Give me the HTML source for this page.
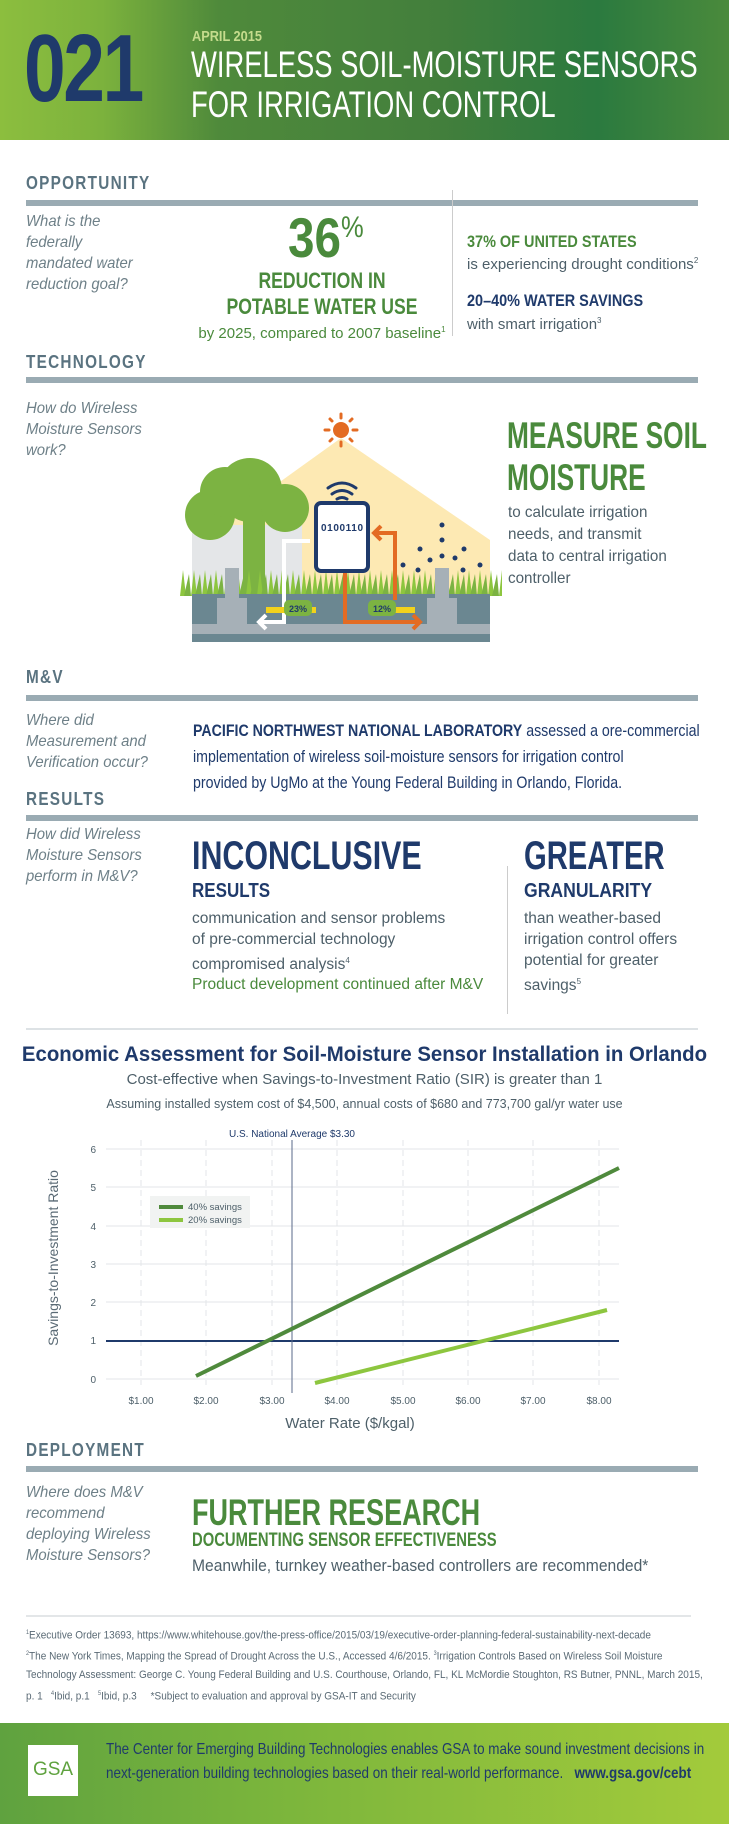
<!DOCTYPE html>
<html><head><meta charset="utf-8">
<style>
*{margin:0;padding:0;box-sizing:border-box}
body{width:729px;height:1824px;position:relative;background:#fff;font-family:"Liberation Sans",sans-serif;overflow:hidden}
.a{position:absolute;white-space:nowrap;transform-origin:left top}
.sec{position:absolute;left:26px;font-weight:bold;color:#5a7380;font-size:18px;letter-spacing:1.5px;transform:scaleX(.85);transform-origin:left top}
.rule{position:absolute;left:26px;width:672px;height:6px;background:#9aabb3}
.q{position:absolute;left:26px;color:#6e8088;font-style:italic;font-size:16px;line-height:21px;white-space:nowrap;transform:scaleX(.93);transform-origin:left top}
.g{color:#4a8a3c}.n{color:#1f3a6b}.t{color:#4d5f69}
</style></head><body>
<div class="a" style="left:0;top:0;width:729px;height:140px;background:linear-gradient(90deg,#8cbe3e 0%,#7cb23d 14%,#4f8a3b 30%,#437f3c 60%,#2b7a3f 82%,#4a8a3c 100%)"></div>
<div class="a n" style="left:24px;top:14px;font-size:96px;font-weight:bold;line-height:110px;letter-spacing:-3px;transform:scaleX(0.78)">021</div>
<div class="a" style="left:192px;top:28px;font-size:15px;font-weight:bold;color:#c5dc8d;transform:scaleX(.85)">APRIL 2015</div>
<div class="a" style="left:191px;top:45px;font-size:37px;color:#fff;line-height:40px;transform:scaleX(.74)">WIRELESS SOIL-MOISTURE SENSORS<br>FOR IRRIGATION CONTROL</div>

<div class="sec" style="top:173px">OPPORTUNITY</div><div class="rule" style="top:200px"></div>
<div class="q" style="top:211px">What is the<br>federally<br>mandated water<br>reduction goal?</div>
<div class="a g" style="left:288px;top:208px;font-size:56px;font-weight:bold;line-height:60px;transform:scaleX(.85)">36<span style="font-size:30px;font-weight:normal;vertical-align:top;line-height:40px">%</span></div>
<div class="a g" style="left:197px;top:268px;width:250px;text-align:center;font-size:22px;font-weight:bold;line-height:26px;transform:scaleX(.8);transform-origin:center top">REDUCTION IN<br>POTABLE WATER USE</div>
<div class="a g" style="left:197px;top:325px;width:250px;text-align:center;font-size:15px">by 2025, compared to 2007 baseline<sup style="font-size:8px">1</sup></div>
<div class="a" style="left:452px;top:190px;width:1px;height:146px;background:#ccc"></div>
<div class="a g" style="left:467px;top:232px;font-size:17px;font-weight:bold;transform:scaleX(.85)">37% OF UNITED STATES</div>
<div class="a t" style="left:467px;top:256px;font-size:15px">is experiencing drought conditions<sup style="font-size:8px">2</sup></div>
<div class="a n" style="left:467px;top:291px;font-size:17px;font-weight:bold;transform:scaleX(.85)">20–40% WATER SAVINGS</div>
<div class="a t" style="left:467px;top:316px;font-size:15px">with smart irrigation<sup style="font-size:8px">3</sup></div>

<div class="sec" style="top:352px">TECHNOLOGY</div><div class="rule" style="top:377px"></div>
<div class="q" style="top:398px">How do Wireless<br>Moisture Sensors<br>work?</div>
<svg class="a" style="left:0;top:0" width="729" height="1824">
<defs><pattern id="gr" x="180" y="570" width="11" height="26" patternUnits="userSpaceOnUse"><polygon points="0,26 3,0 6,26" fill="#8dc63f"/><polygon points="4,26 9,4 11,26" fill="#7cb342"/></pattern></defs>
<polygon points="192,545 341,438 490,540 490,600 192,600" fill="#fde9b3"/>
<rect x="192" y="525" width="110" height="70" fill="#e4e6e8"/>
<circle cx="341" cy="430" r="8" fill="#e36b23"/>
<g stroke="#e36b23" stroke-width="3" stroke-linecap="round">
<line x1="341" y1="414" x2="341" y2="418"/><line x1="341" y1="442" x2="341" y2="446"/><line x1="325" y1="430" x2="329" y2="430"/><line x1="353" y1="430" x2="357" y2="430"/>
<line x1="330" y1="419" x2="332" y2="421"/><line x1="352" y1="419" x2="350" y2="421"/><line x1="330" y1="441" x2="332" y2="439"/><line x1="352" y1="441" x2="350" y2="439"/></g>
<rect x="243" y="500" width="22" height="100" fill="#7cb342"/>
<circle cx="250" cy="490" r="32" fill="#7cb342"/><circle cx="210" cy="515" r="25" fill="#7cb342"/><circle cx="285" cy="508" r="24" fill="#7cb342"/><circle cx="225" cy="492" r="25" fill="#7cb342"/>
<g fill="none" stroke="#1f3a6b" stroke-width="3" stroke-linecap="round"><path d="M328 488 q14-10 28 0"/><path d="M332 494 q10-7 20 0"/><path d="M337 499 q5-3 10 0"/></g>
<g fill="#1f3a6b"><circle cx="442" cy="540" r="2.5"/><circle cx="420" cy="549" r="2.5"/><circle cx="430" cy="560" r="2.5"/><circle cx="442" cy="556" r="2.5"/><circle cx="455" cy="558" r="2.5"/><circle cx="464" cy="549" r="2.5"/><circle cx="403" cy="565" r="2.5"/><circle cx="418" cy="570" r="2.5"/><circle cx="442" cy="572" r="2.5"/><circle cx="463" cy="570" r="2.5"/><circle cx="480" cy="565" r="2.5"/><circle cx="442" cy="525" r="2.5"/></g>
<rect x="180" y="570" width="322" height="26" fill="url(#gr)"/>
<rect x="192" y="594" width="298" height="48" fill="#6b8791"/>
<rect x="192" y="624" width="298" height="10" fill="#a6b0b7"/>
<rect x="225" y="568" width="14" height="60" fill="#a6b0b7"/><rect x="217" y="598" width="30" height="30" fill="#a6b0b7"/>
<rect x="435" y="568" width="14" height="60" fill="#a6b0b7"/><rect x="427" y="598" width="30" height="30" fill="#a6b0b7"/>
<path d="M310 541 H284 V622 H260 M266 615 l-7 7 l7 7" fill="none" stroke="#fff" stroke-width="4"/>
<path d="M345 573 V622 H420 M413 615 l7 7 l-7 7 M395 600 V533 H374 M381 526 l-7 7 l7 7" fill="none" stroke="#e36b23" stroke-width="4"/>
<rect x="266" y="607" width="50" height="6" fill="#f2d21b"/><rect x="284" y="600" width="28" height="16" rx="5" fill="#7cb342"/>
<text x="298" y="612" font-size="9" fill="#1f3a6b" text-anchor="middle" font-weight="bold">23%</text>
<rect x="370" y="607" width="45" height="6" fill="#f2d21b"/><rect x="368" y="600" width="28" height="16" rx="5" fill="#7cb342"/>
<text x="382" y="612" font-size="9" fill="#1f3a6b" text-anchor="middle" font-weight="bold">12%</text>
<rect x="316" y="503" width="52" height="68" rx="5" fill="#fff" stroke="#1f3a6b" stroke-width="4"/>
<text x="342" y="531" font-size="10" fill="#1f3a6b" text-anchor="middle" font-weight="bold" textLength="42">0100110</text>
</svg>
<div class="a g" style="left:507px;top:415px;font-size:37px;font-weight:bold;line-height:42px;transform:scaleX(.71)">MEASURE SOIL<br>MOISTURE</div>
<div class="a t" style="left:508px;top:502px;font-size:16px;line-height:22px;transform:scaleX(.95)">to calculate irrigation<br>needs, and transmit<br>data to central irrigation<br>controller</div>

<div class="sec" style="top:667px">M&amp;V</div><div class="rule" style="top:695px"></div>
<div class="q" style="top:710px">Where did<br>Measurement and<br>Verification occur?</div>
<div class="a n" style="left:193px;top:718px;font-size:16.5px;line-height:26px;transform:scaleX(.86)">
<b>PACIFIC NORTHWEST NATIONAL LABORATORY</b> assessed a ore-commercial<br>implementation of wireless soil-moisture sensors for irrigation control<br>provided by UgMo at the Young Federal Building in Orlando, Florida.</div>

<div class="sec" style="top:789px">RESULTS</div><div class="rule" style="top:815px"></div>
<div class="q" style="top:824px">How did Wireless<br>Moisture Sensors<br>perform in M&amp;V?</div>
<div class="a n" style="left:192px;top:833px;font-size:40px;font-weight:bold;line-height:46px;transform:scaleX(.76)">INCONCLUSIVE</div>
<div class="a n" style="left:192px;top:880px;font-size:20px;font-weight:bold;transform:scaleX(.85)">RESULTS</div>
<div class="a t" style="left:192px;top:908px;font-size:15.5px;line-height:21px">communication and sensor problems<br>of pre-commercial technology<br>compromised analysis<sup style="font-size:8px">4</sup></div>
<div class="a g" style="left:192px;top:976px;font-size:15.5px">Product development continued after M&amp;V</div>
<div class="a" style="left:507px;top:866px;width:1px;height:148px;background:#ccc"></div>
<div class="a n" style="left:524px;top:833px;font-size:40px;font-weight:bold;line-height:46px;transform:scaleX(.73)">GREATER</div>
<div class="a n" style="left:524px;top:880px;font-size:20px;font-weight:bold;transform:scaleX(.88)">GRANULARITY</div>
<div class="a t" style="left:524px;top:908px;font-size:15.5px;line-height:21px">than weather-based<br>irrigation control offers<br>potential for greater<br>savings<sup style="font-size:8px">5</sup></div>

<div class="a" style="left:26px;top:1028px;width:672px;height:2px;background:#dde2e5"></div>
<div class="a n" style="left:0;width:729px;text-align:center;top:1043px;font-size:21px;font-weight:bold;transform:scaleX(.97);transform-origin:center top">Economic Assessment for Soil-Moisture Sensor Installation in Orlando</div>
<div class="a t" style="left:0;width:729px;text-align:center;top:1071px;font-size:15px">Cost-effective when Savings-to-Investment Ratio (SIR) is greater than 1</div>
<div class="a t" style="left:0;width:729px;text-align:center;top:1097px;font-size:12.5px">Assuming installed system cost of $4,500, annual costs of $680 and 773,700 gal/yr water use</div>
<svg class="a" style="left:0;top:0" width="729" height="1824" font-family="Liberation Sans, sans-serif">
<g stroke="#e3e6e8" stroke-width="1">
<line x1="106" y1="1149" x2="619" y2="1149"/><line x1="106" y1="1187" x2="619" y2="1187"/><line x1="106" y1="1226" x2="619" y2="1226"/><line x1="106" y1="1264" x2="619" y2="1264"/><line x1="106" y1="1302" x2="619" y2="1302"/><line x1="106" y1="1379" x2="619" y2="1379"/></g>
<g stroke="#e3e6e8" stroke-width="1" stroke-dasharray="6,4">
<line x1="141" y1="1140" x2="141" y2="1385"/><line x1="206" y1="1140" x2="206" y2="1385"/><line x1="272" y1="1140" x2="272" y2="1385"/><line x1="337" y1="1140" x2="337" y2="1385"/><line x1="403" y1="1140" x2="403" y2="1385"/><line x1="468" y1="1140" x2="468" y2="1385"/><line x1="533" y1="1140" x2="533" y2="1385"/><line x1="599" y1="1140" x2="599" y2="1385"/></g>
<g font-size="10" fill="#4d5f69" text-anchor="end"><text x="96" y="1153">6</text><text x="96" y="1191">5</text><text x="96" y="1230">4</text><text x="96" y="1268">3</text><text x="96" y="1306">2</text><text x="96" y="1344">1</text><text x="96" y="1383">0</text></g>
<g font-size="10" fill="#4d5f69" text-anchor="middle"><text x="141" y="1404">$1.00</text><text x="206" y="1404">$2.00</text><text x="272" y="1404">$3.00</text><text x="337" y="1404">$4.00</text><text x="403" y="1404">$5.00</text><text x="468" y="1404">$6.00</text><text x="533" y="1404">$7.00</text><text x="599" y="1404">$8.00</text></g>
<line x1="106" y1="1341" x2="619" y2="1341" stroke="#1f3a6b" stroke-width="2"/>
<line x1="292" y1="1140" x2="292" y2="1393" stroke="#5a6a8a" stroke-width="1"/>
<text x="292" y="1137" font-size="10" fill="#1f3a6b" text-anchor="middle">U.S. National Average $3.30</text>
<line x1="196" y1="1376" x2="619" y2="1168" stroke="#4f8a3c" stroke-width="4"/>
<line x1="315" y1="1383" x2="607" y2="1310" stroke="#8dc63f" stroke-width="4"/>
<rect x="150" y="1196" width="100" height="32" fill="#f1f3f2"/>
<line x1="159" y1="1207" x2="183" y2="1207" stroke="#4f8a3c" stroke-width="4"/>
<line x1="159" y1="1220" x2="183" y2="1220" stroke="#8dc63f" stroke-width="4"/>
<text x="188" y="1210" font-size="9.5" fill="#4d5f69">40% savings</text>
<text x="188" y="1223" font-size="9.5" fill="#4d5f69">20% savings</text>
<text transform="translate(58,1258) rotate(-90)" font-size="14" fill="#5a6a75" text-anchor="middle">Savings-to-Investment Ratio</text>
<text x="350" y="1428" font-size="15" fill="#4d5f69" text-anchor="middle">Water Rate ($/kgal)</text>
</svg>

<div class="sec" style="top:1440px">DEPLOYMENT</div><div class="rule" style="top:1466px"></div>
<div class="q" style="top:1482px;line-height:21px">Where does M&amp;V<br>recommend<br>deploying Wireless<br>Moisture Sensors?</div>
<div class="a g" style="left:192px;top:1492px;font-size:37px;font-weight:bold;line-height:42px;transform:scaleX(.73)">FURTHER RESEARCH</div>
<div class="a g" style="left:192px;top:1530px;font-size:19px;font-weight:bold;transform:scaleX(.78)">DOCUMENTING SENSOR EFFECTIVENESS</div>
<div class="a t" style="left:192px;top:1556px;font-size:17px;transform:scaleX(.92)">Meanwhile, turnkey weather-based controllers are recommended*</div>
<div class="a" style="left:26px;top:1615px;width:665px;height:2px;background:#e3e6e8"></div>
<div class="a t" style="left:26px;top:1624px;font-size:11px;line-height:18.5px;color:#5a6a75;transform:scaleX(.91)">
<sup style="font-size:6px">1</sup>Executive Order 13693, https://www.whitehouse.gov/the-press-office/2015/03/19/executive-order-planning-federal-sustainability-next-decade<br>
<sup style="font-size:6px">2</sup>The New York Times, Mapping the Spread of Drought Across the U.S., Accessed 4/6/2015. <sup style="font-size:6px">3</sup>Irrigation Controls Based on Wireless Soil Moisture<br>
Technology Assessment: George C. Young Federal Building and U.S. Courthouse, Orlando, FL, KL McMordie Stoughton, RS Butner, PNNL, March 2015,<br>
p. 1 &nbsp;&nbsp;<sup style="font-size:6px">4</sup>Ibid, p.1 &nbsp;&nbsp;<sup style="font-size:6px">5</sup>Ibid, p.3 &nbsp;&nbsp;&nbsp;&nbsp;*Subject to evaluation and approval by GSA-IT and Security</div>

<div class="a" style="left:0;top:1723px;width:729px;height:101px;background:linear-gradient(90deg,#5fa23f 0%,#79b43c 35%,#a3cb3b 100%)"></div>
<div class="a" style="left:28px;top:1745px;width:50px;height:51px;background:#fff"></div>
<div class="a" style="left:28px;top:1759px;width:50px;text-align:center;font-size:19px;color:#5fa23f">GSA</div>
<div class="a n" style="left:106px;top:1738px;font-size:16px;line-height:24px;transform:scaleX(.84)">The Center for Emerging Building Technologies enables GSA to make sound investment decisions in<br>next-generation building technologies based on their real-world performance. &nbsp;&nbsp;<b>www.gsa.gov/cebt</b></div>
</body></html>
